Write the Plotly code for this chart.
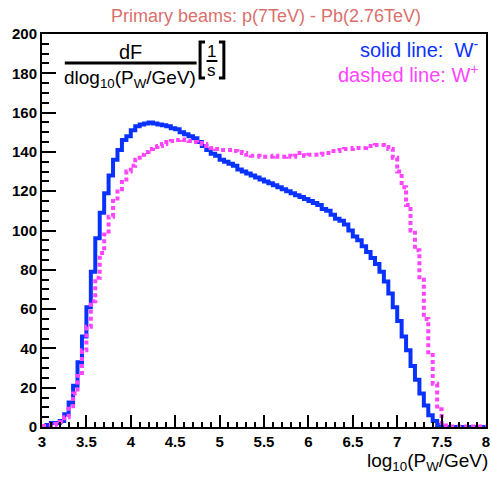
import numpy as np
import plotly.graph_objects as go

# ---------------- data ----------------
bin_width = 0.05
bin_low = [round(3.0 + i * bin_width, 2) for i in range(100)]

w_minus = [0.5, 1, 2, 2, 3, 6.5, 12.5, 21, 33, 46,
           61, 79, 96, 109, 119, 128, 136, 141, 146, 148,
           151, 153, 154, 154.5, 155, 154.5, 154, 153.5, 153, 152,
           151.5, 150, 149, 148, 147, 145, 143, 141, 139, 138,
           136, 135, 134, 133, 131, 130, 129, 128, 127, 126,
           125, 124, 123, 122, 121, 120, 119, 118, 117, 116,
           115, 114, 113, 111, 110, 108, 106, 105, 103, 100,
           97, 95, 92, 89, 86, 83, 79, 74, 68, 61,
           54, 46, 39, 31, 24, 17, 11, 6, 3, 1,
           0, 0, 0, 0, 0, 0, 0, 0, 0, 0]

w_plus = [0.5, 0.5, 1, 1.5, 2.5, 5, 10.5, 17, 26, 39,
          51, 64, 76, 88.5, 98, 107, 115, 121, 126, 130,
          133, 136, 138.5, 140, 141.5, 142.5, 143, 144, 145, 145.5,
          146, 146.3, 146, 145.5, 145, 144.5, 144, 143, 142, 141.5,
          141, 141, 141, 140.5, 140, 139.5, 138.5, 138, 138, 137.5,
          137.5, 137.5, 138, 137.5, 137.5, 138, 137.5, 138, 139.5, 138,
          138.5, 138.5, 138.5, 139, 139.5, 140.5, 140.5, 141, 141.5, 141.5,
          142, 142, 142, 143, 143, 143.5, 143.5, 142.5, 141.5, 137,
          130, 122, 113, 100, 90, 75, 55, 38, 22, 9,
          2, 0.3, 0.3, 0.3, 0.3, 0.3, 0.3, 0.3, 0.3, 0.3]

x_tick_vals = [3, 3.5, 4, 4.5, 5, 5.5, 6, 6.5, 7, 7.5, 8]
x_tick_text = ["3", "3.5", "4", "4.5", "5", "5.5", "6", "6.5", "7", "7.5", "8"]
y_tick_vals = [0, 20, 40, 60, 80, 100, 120, 140, 160, 180, 200]

assert len(w_minus) == 100 and len(w_plus) == 100

BLUE = "#0a32ff"
MAGENTA = "#ff44ff"
TITLE_COL = "#d9706c"
FONT = "Arial, Liberation Sans, sans-serif"

# plot area in pixels
W, H = 492, 477
L, R, T, B = 42, 490, 34, 427


def px(xp):
    return (xp - L) / (R - L)


def py(yp):
    return (B - yp) / (B - T)


def step_xy(vals):
    xs = list(bin_low) + [bin_low[-1] + bin_width]
    ys = list(vals) + [vals[-1]]
    return xs, ys


fig = go.Figure()
xb, yb = step_xy(w_minus)
fig.add_trace(go.Scatter(x=xb, y=yb, mode="lines", line_shape="hv",
                         line=dict(color=BLUE, width=4), showlegend=False,
                         hoverinfo="skip"))
xm, ym = step_xy(w_plus)
fig.add_trace(go.Scatter(x=xm, y=ym, mode="lines", line_shape="hv",
                         line=dict(color=MAGENTA, width=4, dash="4px,3px"),
                         showlegend=False, hoverinfo="skip"))

annotations = [
    dict(text="Primary beams: p(7TeV) - Pb(2.76TeV)", x=px(268.5), y=py(16),
         font=dict(size=18, color=TITLE_COL, family=FONT)),
    dict(text="dF", x=px(131), y=py(52), font=dict(size=20, color="black", family=FONT)),
    dict(text="dlog<sub>10</sub>(P<sub>W</sub>/GeV)", x=px(131), y=py(79),
         font=dict(size=19, color="black", family=FONT)),
    dict(text="1", x=px(213.5), y=py(51), font=dict(size=17, color="black", family=FONT)),
    dict(text="s", x=px(213.5), y=py(70), font=dict(size=17, color="black", family=FONT)),
    dict(text="solid line:  W<sup>-</sup>", x=px(484), y=py(49), xanchor="right",
         font=dict(size=20, color=BLUE, family=FONT)),
    dict(text="dashed line: W<sup>+</sup>", x=px(484), y=py(73), xanchor="right",
         font=dict(size=20, color=MAGENTA, family=FONT)),
    dict(text="log<sub>10</sub>(P<sub>W</sub>/GeV)", x=px(494), y=py(462), xanchor="right",
         font=dict(size=19, color="black", family=FONT)),
]
for a in annotations:
    a.setdefault("xanchor", "center")
    a.update(xref="paper", yref="paper", yanchor="middle", showarrow=False)

shapes = [
    dict(type="line", x0=px(65), x1=px(198), y0=py(63), y1=py(63),
         line=dict(color="black", width=3)),
    dict(type="line", x0=px(208), x1=px(219), y0=py(61), y1=py(61),
         line=dict(color="black", width=2)),
    dict(type="path", path="M %f,%f L %f,%f L %f,%f L %f,%f" % (
        px(206.5), py(42), px(201.5), py(42), px(201.5), py(78), px(206.5), py(78)),
        line=dict(color="black", width=3)),
    dict(type="path", path="M %f,%f L %f,%f L %f,%f L %f,%f" % (
        px(220.5), py(42), px(225.5), py(42), px(225.5), py(78), px(220.5), py(78)),
        line=dict(color="black", width=3)),
]
for s in shapes:
    s.update(xref="paper", yref="paper")

fig.update_layout(
    width=W, height=H,
    margin=dict(l=L, r=W - R, t=T, b=H - B, pad=0),
    paper_bgcolor="white", plot_bgcolor="white",
    annotations=annotations, shapes=shapes,
    xaxis=dict(range=[3, 8], tickvals=x_tick_vals, ticktext=x_tick_text,
               ticks="inside", ticklen=12, tickwidth=2, tickcolor="black",
               showline=True, linewidth=2, linecolor="black", mirror=True,
               showgrid=False, zeroline=False, ticklabeloverflow="allow",
               minor=dict(ticks="inside", ticklen=5, tickwidth=2, dtick=0.1,
                          tickcolor="black", showgrid=False),
               tickfont=dict(size=15, color="black", family=FONT, weight="bold")),
    yaxis=dict(range=[0, 200], tickvals=y_tick_vals,
               ticks="inside", ticklen=14, tickwidth=2, tickcolor="black",
               showline=True, linewidth=2, linecolor="black", mirror=True,
               showgrid=False, zeroline=False, ticklabeloverflow="allow",
               minor=dict(ticks="inside", ticklen=7, tickwidth=2, dtick=5,
                          tickcolor="black", showgrid=False),
               tickfont=dict(size=15, color="black", family=FONT, weight="bold")),
)

fig.write_html("out.html", config={"displayModeBar": False},
               post_script="document.body.style.margin='0';document.body.style.overflow='hidden';")
